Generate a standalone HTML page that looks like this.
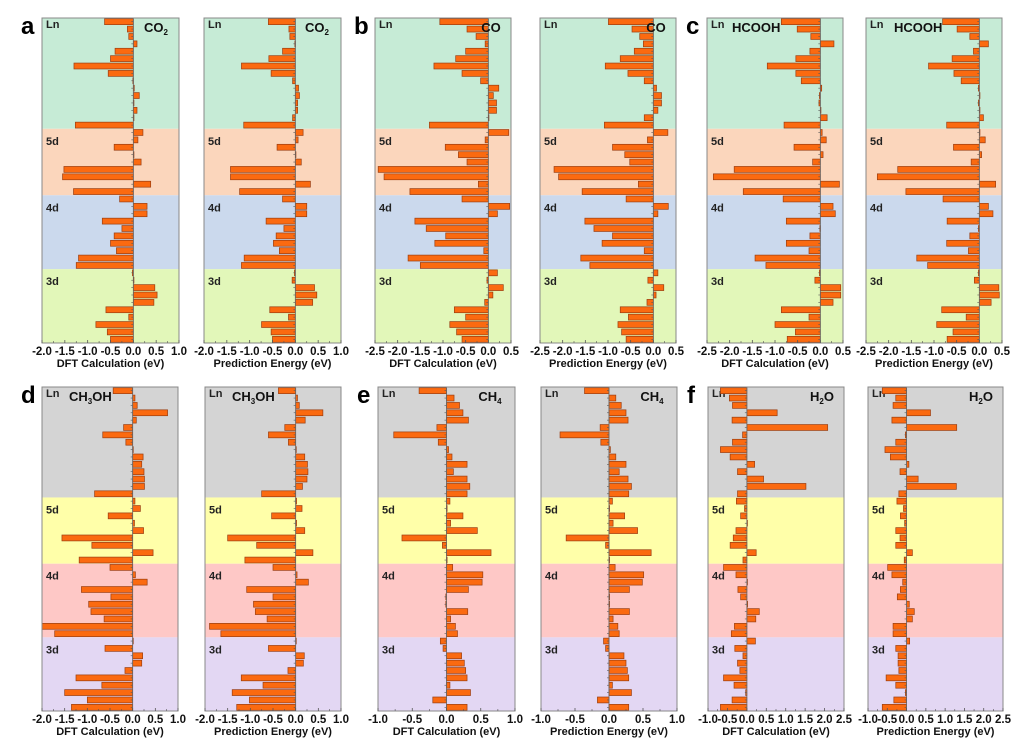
<!DOCTYPE html>
<html><head><meta charset="utf-8"><style>
html,body{margin:0;padding:0;background:#fff;}
svg{display:block;font-family:"Liberation Sans",Arial,sans-serif;}
</style></head><body>
<svg id="fig" width="1012" height="743" viewBox="0 0 1012 743"></svg>
<script>
const groupNames = ['Ln','5d','4d','3d'];
const groupCounts = [15,9,10,10];
const ticksCO2 = [-2.0,-1.5,-1.0,-0.5,0.0,0.5,1.0];
const ticksCO = [-2.5,-2.0,-1.5,-1.0,-0.5,0.0,0.5];
const ticksCH4 = [-1.0,-0.5,0.0,0.5,1.0];
const ticksH2O = [-1.0,-0.5,0.0,0.5,1.0,1.5,2.0,2.5];

const a1Values = [-0.63,-0.13,-0.1,0.08,-0.4,-0.5,-1.3,-0.55,-0.01,0.02,0.13,0,0.08,0.01,-1.27, 0.21,0.1,-0.42,0.01,0.17,-1.52,-1.55,0.38,-1.31, -0.3,0.3,0.3,-0.68,-0.25,-0.42,-0.5,-0.37,-1.2,-1.25, -0.02,0,0.47,0.52,0.45,-0.6,-0.1,-0.82,-0.57,-0.5];
const a2Values = [-0.59,-0.14,-0.12,-0.01,-0.28,-0.58,-1.18,-0.53,-0.06,0.07,0.09,0.05,0.05,-0.06,-1.13, 0.17,0.06,-0.4,0,0.13,-1.42,-1.42,0.33,-1.22, -0.28,0.25,0.25,-0.64,-0.25,-0.42,-0.48,-0.35,-1.12,-1.18, -0.02,-0.07,0.42,0.47,0.38,-0.56,-0.15,-0.74,-0.53,-0.5];
const b1Values = [-1.07,-0.47,-0.27,-0.07,-0.5,-0.72,-1.2,-0.58,-0.17,0.23,0.11,0.18,0.18,0,-1.3, 0.45,-0.07,-0.95,-0.66,-0.47,-2.43,-2.3,-0.22,-1.73, -0.58,0.47,0.2,-1.62,-1.37,-0.94,-1.18,-0.1,-1.77,-1.5, 0.2,-0.03,0.33,0.1,-0.08,-0.75,-0.5,-0.85,-0.7,-0.58];
const b2Values = [-0.99,-0.47,-0.3,-0.22,-0.42,-0.73,-1.06,-0.56,-0.2,0.07,0.18,0.18,0.1,-0.2,-1.08, 0.32,-0.13,-0.9,-0.63,-0.52,-2.19,-2.09,-0.33,-1.57, -0.6,0.33,0.1,-1.51,-1.31,-0.9,-1.13,-0.2,-1.6,-1.4, 0.1,-0.12,0.23,0.06,-0.14,-0.73,-0.55,-0.78,-0.7,-0.6];
const c1Values = [-0.86,-0.51,-0.21,0.3,-0.23,-0.54,-1.17,-0.54,-0.42,0.03,-0.02,-0.03,0,0.15,-0.8, 0.04,0.13,-0.58,0.06,-0.17,-1.9,-2.36,0.42,-1.7, -0.82,0.28,0.33,-0.75,-0.01,-0.23,-0.75,-0.25,-1.44,-1.2, -0.02,-0.12,0.45,0.45,0.28,-0.86,-0.25,-1.0,-0.55,-0.73];
const c2Values = [-0.81,-0.49,-0.21,0.2,-0.13,-0.6,-1.12,-0.56,-0.4,-0.02,0,-0.02,0,0.09,-0.72, 0.01,0.13,-0.57,0.05,-0.18,-1.8,-2.25,0.36,-1.62, -0.8,0.2,0.3,-0.71,-0.02,-0.21,-0.72,-0.24,-1.38,-1.14, -0.02,-0.11,0.43,0.44,0.26,-0.83,-0.29,-0.94,-0.58,-0.71];
const d1Values = [-0.43,0.05,0.1,0.77,0.08,-0.2,-0.66,-0.15,0,0.23,0.2,0.25,0.26,0.26,-0.84, 0.05,0.17,-0.54,0.04,0.24,-1.56,-0.9,0.45,-1.18, -0.5,0.06,0.32,-1.13,-0.48,-0.97,-0.92,-0.63,-2.0,-1.72, 0.01,-0.61,0.22,0.2,-0.17,-1.25,-0.68,-1.5,-1.0,-1.35];
const d2Values = [-0.38,0.04,0.08,0.6,0.21,-0.24,-0.6,-0.16,0,0.2,0.26,0.27,0.25,0.15,-0.75, 0.02,0.14,-0.53,0.02,0.2,-1.5,-0.86,0.38,-1.12, -0.5,0.03,0.28,-1.08,-0.5,-0.93,-0.89,-0.63,-1.9,-1.65, 0,-0.6,0.19,0.17,-0.17,-1.2,-0.72,-1.4,-1.02,-1.3];
const e1Values = [-0.4,0.11,0.19,0.24,0.32,-0.14,-0.77,-0.12,0.03,0.08,0.3,0.1,0.3,0.34,0.3, 0.05,0,0.24,0.06,0.45,-0.65,-0.06,0.65,0, 0.09,0.53,0.52,0.32,-0.01,-0.01,0.31,0.06,0.13,0.16, -0.09,-0.05,0.22,0.26,0.28,0.3,0.05,0.35,-0.2,0.3];
const e2Values = [-0.36,0.1,0.18,0.25,0.28,-0.13,-0.72,-0.12,0.02,0.1,0.25,0.15,0.28,0.33,0.29, 0.05,0,0.23,0.06,0.42,-0.63,-0.05,0.62,0, 0.09,0.51,0.49,0.3,0,0,0.3,0.06,0.13,0.15, -0.08,-0.05,0.22,0.25,0.27,0.29,0.05,0.33,-0.17,0.29];
const f1Values = [-0.68,-0.45,-0.37,0.78,-0.38,2.08,-0.11,-0.37,-0.68,-0.43,0.2,-0.24,0.43,1.52,-0.24, -0.27,-0.06,-0.16,0,-0.28,-0.35,-0.43,0.24,-0.1, -0.6,-0.28,0,-0.23,-0.16,0.02,0.32,0.23,-0.32,-0.4, 0.22,-0.31,-0.1,-0.24,-0.18,-0.6,-0.33,-0.03,-0.38,-0.68];
const f2Values = [-0.63,-0.28,-0.35,0.62,-0.38,1.3,-0.03,-0.28,-0.56,-0.42,0.06,-0.17,0.3,1.29,-0.2, -0.25,-0.08,-0.16,-0.05,-0.28,-0.17,-0.28,0.15,-0.06, -0.49,-0.38,-0.1,-0.16,-0.24,0.07,0.2,0.15,-0.35,-0.35, 0.08,-0.28,-0.22,-0.22,-0.2,-0.53,-0.28,-0.03,-0.33,-0.63];

const NS='http://www.w3.org/2000/svg';
const svg=document.getElementById('fig');
function mk(tag,attrs,parent){const e=document.createElementNS(NS,tag);for(const k in attrs)e.setAttribute(k,attrs[k]);(parent||svg).appendChild(e);return e;}

const topColors=['#c6ebd6','#fbd6bc','#cbd9ed','#e2f7b9'];
const botColors=['#d4d4d4','#ffffa9','#fec8c6','#e3d7f3'];

const panels=[
 {id:'a1',vals:a1Values,ticks:ticksCO2,min:-2,max:1,x0:42,x1:179,y0:18,y1:343,col:topColors,xl:'DFT Calculation (eV)',title:['CO','2'],tx:156,letter:'a'},
 {id:'a2',vals:a2Values,ticks:ticksCO2,min:-2,max:1,x0:204,x1:341,y0:18,y1:343,col:topColors,xl:'Prediction Energy (eV)',title:['CO','2'],tx:317},
 {id:'b1',vals:b1Values,ticks:ticksCO,min:-2.5,max:0.5,x0:375,x1:511,y0:18,y1:343,col:topColors,xl:'DFT Calculation (eV)',title:['CO',''],tx:491,letter:'b'},
 {id:'b2',vals:b2Values,ticks:ticksCO,min:-2.5,max:0.5,x0:540,x1:676,y0:18,y1:343,col:topColors,xl:'Prediction Energy (eV)',title:['CO',''],tx:656},
 {id:'c1',vals:c1Values,ticks:ticksCO,min:-2.5,max:0.5,x0:707,x1:843,y0:18,y1:343,col:topColors,xl:'DFT Calculation (eV)',title:['HCOOH',''],tx:732,letter:'c'},
 {id:'c2',vals:c2Values,ticks:ticksCO,min:-2.5,max:0.5,x0:866,x1:1002,y0:18,y1:343,col:topColors,xl:'Prediction Energy (eV)',title:['HCOOH',''],tx:894},
 {id:'d1',vals:d1Values,ticks:ticksCO2,min:-2,max:1,x0:42,x1:178,y0:387,y1:711,col:botColors,xl:'DFT Calculation (eV)',title:['CH','3','OH'],tx:69,letter:'d'},
 {id:'d2',vals:d2Values,ticks:ticksCO2,min:-2,max:1,x0:205,x1:341,y0:387,y1:711,col:botColors,xl:'Prediction Energy (eV)',title:['CH','3','OH'],tx:232},
 {id:'e1',vals:e1Values,ticks:ticksCH4,min:-1,max:1,x0:378,x1:515,y0:387,y1:711,col:botColors,xl:'DFT Calculation (eV)',title:['CH','4'],tx:490,letter:'e'},
 {id:'e2',vals:e2Values,ticks:ticksCH4,min:-1,max:1,x0:541,x1:677,y0:387,y1:711,col:botColors,xl:'Prediction Energy (eV)',title:['CH','4'],tx:652},
 {id:'f1',vals:f1Values,ticks:ticksH2O,min:-1,max:2.5,x0:708,x1:844,y0:387,y1:711,col:botColors,xl:'DFT Calculation (eV)',title:['H','2','O'],tx:822,letter:'f'},
 {id:'f2',vals:f2Values,ticks:ticksH2O,min:-1,max:2.5,x0:868,x1:1003,y0:387,y1:711,col:botColors,xl:'Prediction Energy (eV)',title:['H','2','O'],tx:981}
];

panels.forEach(p=>{
  const g=mk('g',{});
  
  
  const xs=v=>p.x0+(v-p.min)/(p.max-p.min)*(p.x1-p.x0);
  const n=p.vals.length;
  const rowH=(p.y1-p.y0)/n;
  const ys=i=>p.y0+i*rowH;
  let start=0;
  groupNames.forEach((gn,gi)=>{
    const r=mk('rect',{x:p.x0,y:ys(start),width:p.x1-p.x0,height:groupCounts[gi]*rowH,fill:p.col[gi]},g);
    
    
    const t=mk('text',{x:p.x0+4,y:ys(start)+(gi===0?10:16),'font-size':'11','font-weight':'bold',fill:'#222'},g);
    t.textContent=gn;
    
    
    start+=groupCounts[gi];
  });
  const zx=xs(0);
  p.vals.forEach((v,i)=>{
    const a=Math.min(xs(v),zx), b=Math.max(xs(v),zx);
    const r=mk('rect',{x:a,y:ys(i)+rowH*0.1,width:Math.max(b-a,0.6),height:rowH*0.8,fill:'#fb6a10',stroke:'#9a3e12','stroke-width':'0.7'},g);
    
    
    mk('line',{x1:zx-2,x2:zx,y1:ys(i)+rowH/2,y2:ys(i)+rowH/2,stroke:'#555','stroke-width':'0.6'},g);
  });
  mk('line',{x1:zx,x2:zx,y1:p.y0,y2:p.y1,stroke:'#666','stroke-width':'0.8'},g);
  const fr=mk('rect',{x:p.x0,y:p.y0,width:p.x1-p.x0,height:p.y1-p.y0,fill:'none',stroke:'#888','stroke-width':'1'},g);
  
  
  p.ticks.forEach((tv,ti)=>{
    const x=xs(tv);
    mk('line',{x1:x,x2:x,y1:p.y1,y2:p.y1-3,stroke:'#555','stroke-width':'0.8'},g);
    if(ti<p.ticks.length-1){const xm=xs(tv+(p.ticks[1]-p.ticks[0])/2);mk('line',{x1:xm,x2:xm,y1:p.y1,y2:p.y1-2,stroke:'#555','stroke-width':'0.6'},g);}
    const t=mk('text',{x:x,y:p.y1+12,'font-size':'11.5','font-weight':'bold','text-anchor':'middle',fill:'#111'},g);
    t.textContent=tv.toFixed(1);
    
    
  });
  const xl=mk('text',{x:(p.x0+p.x1)/2,y:p.y1+24,'font-size':'11','font-weight':'bold','text-anchor':'middle',fill:'#111'},g);
  xl.textContent=p.xl;
  
  
  const tt=mk('text',{x:p.tx,y:p.y0+14,'font-size':'13','font-weight':'bold',fill:'#111','text-anchor':(p.tx>p.x0+60?'middle':'start')},g);
  
  
  p.title.forEach((s,k)=>{
    if(!s)return;
    const sp=mk('tspan',{},tt);
    if(k===1){sp.setAttribute('font-size','8');sp.setAttribute('dy','3');}
    if(k===2){sp.setAttribute('dy','-3');}
    sp.textContent=s;
  });
  if(p.letter){
    const L=mk('text',{x:p.x0-21,y:p.y0+16,'font-size':'24','font-weight':'bold',fill:'#000'},g);
    L.textContent=p.letter;
    
    
  }
});
</script>
</body></html>
